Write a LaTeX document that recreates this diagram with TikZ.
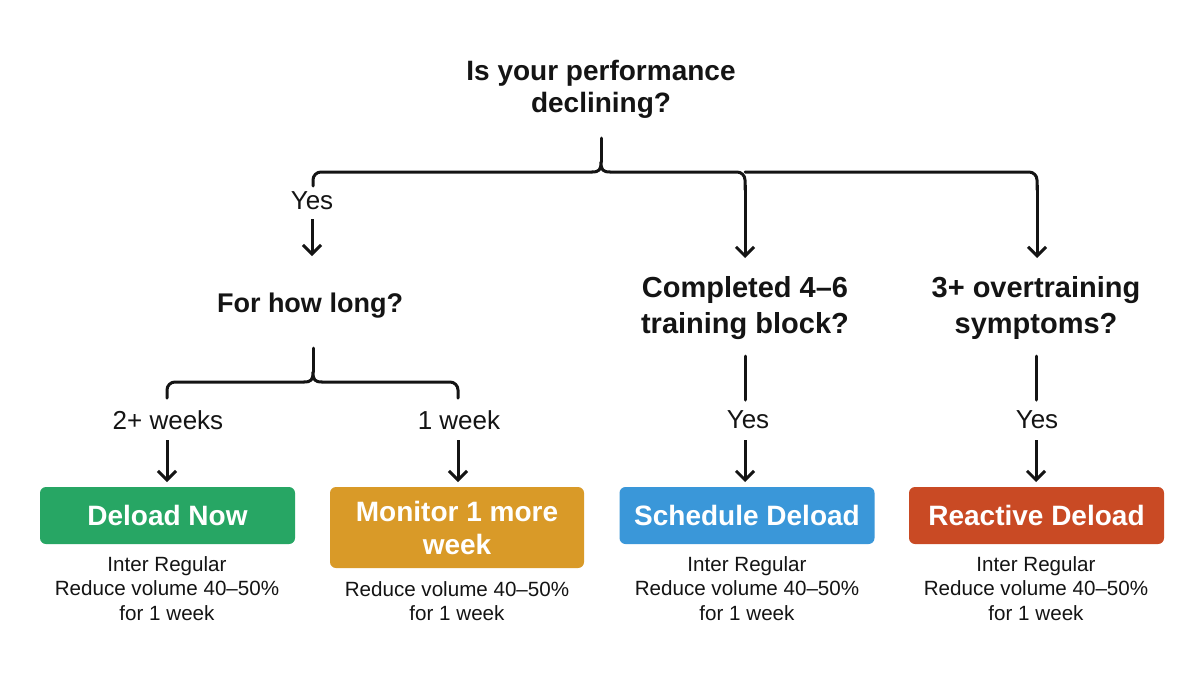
\documentclass[tikz,border=0pt]{standalone}
\usepackage{fontspec}
\setmainfont{Liberation Sans}
\usetikzlibrary{arrows.meta}
\definecolor{cgreen}{RGB}{39,166,100}
\definecolor{corange}{RGB}{217,154,40}
\definecolor{cblue}{RGB}{58,151,217}
\definecolor{cred}{RGB}{201,74,36}
\definecolor{ink}{RGB}{20,20,20}
\begin{document}
\begin{tikzpicture}[x=1pt,y=-1pt,
 q/.style={font=\bfseries\fontsize{28}{32}\selectfont, align=center, inner sep=0pt, text=ink},
 lbl/.style={font=\fontsize{26}{30}\selectfont, inner sep=0pt, text=ink},
 box/.style={rounded corners=6pt, text=white, font=\bfseries\fontsize{28}{33}\selectfont, align=center, minimum width=255pt, minimum height=57pt, inner sep=0pt},
 note/.style={font=\fontsize{20.6}{24.5}\selectfont, align=center, inner sep=0pt, text=ink},
 conn/.style={line width=3pt, rounded corners=8pt, line join=round, line cap=round, draw=ink},
 cusp/.style={line width=3pt, sharp corners, line join=round, line cap=round, draw=ink},
 arr/.style={line width=3pt, draw=ink, -{Straight Barb[length=9pt,width=18pt]}}
]
\useasboundingbox[fill=white] (0,0) rectangle (1204,672);

% questions
\node[q] (root) at (601,89) {Is your performance\\declining?};
\node[q, font=\bfseries\fontsize{27}{32}\selectfont] (howlong) at (310,306) {For how long?};
\node[q, font=\bfseries\fontsize{29}{36}\selectfont] (block) at (745,308) {Completed 4--6\\training block?};
\node[q, font=\bfseries\fontsize{29}{36}\selectfont] (sympt) at (1036,308) {3+ overtraining\\symptoms?};

% labels
\node[lbl] (yes1) at (312,201) {Yes};
\node[lbl] (w2) at (168,420) {2+ weeks};
\node[lbl] (w1) at (459,420) {1 week};
\node[lbl] (yes2) at (748,420) {Yes};
\node[lbl] (yes3) at (1037,420) {Yes};

% boxes
\node[box, fill=cgreen] (deload) at (167.5,515.5) {Deload Now};
\node[box, fill=corange, minimum height=81pt, minimum width=254pt] (monitor) at (457,527.5) {Monitor 1 more\\week};
\node[box, fill=cblue] (sched) at (747,515.5) {Schedule Deload};
\node[box, fill=cred] (react) at (1036.5,515.5) {Reactive Deload};

% notes
\node[note] (n1) at (167,588.5) {Inter Regular\\Reduce volume 40--50\%\\for 1 week};
\node[note] (n2) at (457,601) {Reduce volume 40--50\%\\for 1 week};
\node[note] (n3) at (747,588.5) {Inter Regular\\Reduce volume 40--50\%\\for 1 week};
\node[note] (n4) at (1036,588.5) {Inter Regular\\Reduce volume 40--50\%\\for 1 week};

% top brace
\coordinate (t0) at (601,138);
\coordinate (t1) at (601,162);
\coordinate (tcL) at (592,172);
\coordinate (tcR) at (610,172);
\coordinate (tL) at (313,172);
\coordinate (tM) at (745,172);
\coordinate (tR) at (1037,172);

\draw[cusp] (t0) -- (t1);
\draw[cusp] (tcL) .. controls (599,172) and (601,170) .. (t1)
  .. controls (601,170) and (603,172) .. (tcR);
\draw[conn] (313,186) -- (tL) -- (tcL);
\draw[conn] (tcR) -- (tM) -- (745,190);
\draw[conn] (tM) -- (tR) -- (1037,190);
\draw[arr] (745,185) -- (745,258);
\draw[arr] (1037,185) -- (1037,258);
\draw[arr] (312,219) -- (312,256);

% second brace
\coordinate (s0) at (313,348);
\coordinate (s1) at (313,372);
\coordinate (scL) at (304,382);
\coordinate (scR) at (322,382);
\coordinate (sL) at (167,382);
\coordinate (sR) at (458,382);
\draw[cusp] (s0) -- (s1);
\draw[cusp] (scL) .. controls (311,382) and (313,380) .. (s1)
  .. controls (313,380) and (315,382) .. (scR);
\draw[conn] (167,398) -- (sL) -- (scL);
\draw[conn] (scR) -- (sR) -- (458,398);
\draw[arr] (167,440) -- (167,482);
\draw[arr] (458,440) -- (458,482);

% straight branches
\draw[cusp] (745,356) -- (745,400);
\draw[arr] (745,440) -- (745,482);
\draw[cusp] (1036,356) -- (1036,400);
\draw[arr] (1036,440) -- (1036,482);
\end{tikzpicture}
\end{document}
